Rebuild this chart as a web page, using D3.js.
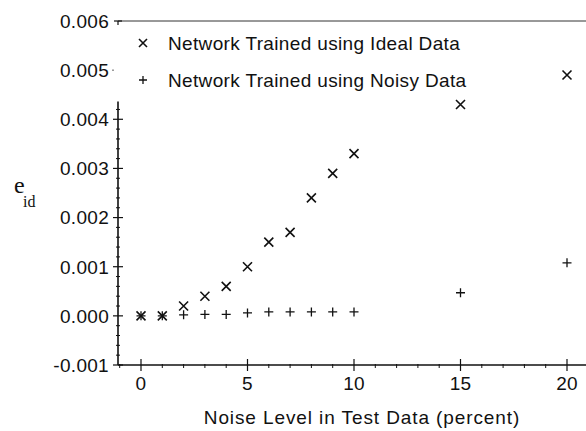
<!DOCTYPE html>
<html>
<head>
<meta charset="utf-8">
<script src="https://cdn.jsdelivr.net/npm/d3@7/dist/d3.min.js"></script>
<style>
  html, body { margin: 0; padding: 0; background: #fff; }
  svg { display: block; }
  text { font-family: "Liberation Sans", Arial, Helvetica, sans-serif; fill: #111; }
</style>
</head>
<body>
<svg id="chart" width="586" height="431"></svg>
<script>
// Noise level in test data (percent)
const noiseLevels = [0, 1, 2, 3, 4, 5, 6, 7, 8, 9, 10, 15, 20];
// e_id for the network trained on ideal data
const idealTrained = [0.0, 0.0, 0.0002, 0.0004, 0.0006, 0.0010, 0.0015, 0.0017, 0.0024, 0.0029, 0.0033, 0.0043, 0.0049];
// e_id for the network trained on noisy data
const noisyTrained = [0.0, 0.0, 0.00002, 0.00003, 0.00003, 0.00006, 0.00008, 0.00008, 0.00008, 0.00008, 0.00008, 0.00047, 0.00108];

const xTicks = [0, 5, 10, 15, 20];
const yTicks = [-0.001, 0.000, 0.001, 0.002, 0.003, 0.004, 0.005, 0.006];
const legendLabels = ["Network Trained using Ideal Data", "Network Trained using Noisy Data"];

const svg = d3.select("#chart");
const x = d3.scaleLinear().domain([0, 20]).range([141, 567]);
const y = d3.scaleLinear().domain([-0.001, 0.006]).range([365, 21]);
const axisX = 118;
const ink = "#111";

// Frame lines: bottom axis, top rule, left axis (below legend)
svg.append("line").attr("x1", axisX).attr("x2", 586).attr("y1", y(-0.001)).attr("y2", y(-0.001))
  .attr("stroke", ink).attr("stroke-width", 1.6);
svg.append("line").attr("x1", axisX).attr("x2", 586).attr("y1", y(0.006)).attr("y2", y(0.006))
  .attr("stroke", "#333").attr("stroke-width", 1);
svg.append("line").attr("x1", axisX).attr("x2", axisX).attr("y1", y(-0.001)).attr("y2", y(0.00436))
  .attr("stroke", ink).attr("stroke-width", 1.6);

// Y axis ticks and labels
const yFmt = d3.format(".3f");
const yMinor = d3.range(-0.001, 0.00431, 0.0002).filter(v => Math.abs(Math.round(v * 1000) - v * 1000) > 1e-6);
svg.append("g").selectAll("line").data(yMinor).join("line")
  .attr("x1", axisX - 2).attr("x2", axisX + 2).attr("y1", d => y(d)).attr("y2", d => y(d))
  .attr("stroke", ink).attr("stroke-width", 1);
svg.append("g").selectAll("line").data(yTicks.filter(v => v <= 0.0041)).join("line")
  .attr("x1", axisX - 5).attr("x2", axisX + 5).attr("y1", d => y(d)).attr("y2", d => y(d))
  .attr("stroke", ink).attr("stroke-width", 1.2);
svg.append("line").attr("x1", axisX - 6).attr("x2", axisX - 4).attr("y1", y(0.005)).attr("y2", y(0.005))
  .attr("stroke", "#666").attr("stroke-width", 1);
svg.append("line").attr("x1", axisX - 4).attr("x2", axisX + 4).attr("y1", y(0.006)).attr("y2", y(0.006))
  .attr("stroke", ink).attr("stroke-width", 1.2);
svg.append("line").attr("x1", axisX).attr("x2", axisX).attr("y1", y(0.006)).attr("y2", y(0.006) + 4)
  .attr("stroke", ink).attr("stroke-width", 1.2);
svg.append("g").selectAll("text").data(yTicks).join("text")
  .attr("x", 109).attr("y", d => y(d)).attr("dy", "0.36em")
  .attr("text-anchor", "end").attr("font-size", 19).attr("letter-spacing", 0.3)
  .text(d => d < 0 ? "-" + yFmt(-d) : yFmt(d));

// X axis ticks and labels
const xMinor = d3.range(-1, 21).filter(v => v % 5 !== 0);
svg.append("g").selectAll("line").data(xMinor).join("line")
  .attr("x1", d => x(d)).attr("x2", d => x(d)).attr("y1", y(-0.001) - 1).attr("y2", y(-0.001) + 3)
  .attr("stroke", ink).attr("stroke-width", 1);
svg.append("g").selectAll("line").data(xTicks).join("line")
  .attr("x1", d => x(d)).attr("x2", d => x(d)).attr("y1", y(-0.001) - 6).attr("y2", y(-0.001) + 6)
  .attr("stroke", ink).attr("stroke-width", 1.2);
svg.append("g").selectAll("text").data(xTicks).join("text")
  .attr("x", d => x(d)).attr("y", 390).attr("text-anchor", "middle").attr("font-size", 19)
  .attr("letter-spacing", 0.3)
  .text(d => d);

// Axis titles
svg.append("text").attr("x", 362).attr("y", 424).attr("text-anchor", "middle").attr("font-size", 19)
  .attr("letter-spacing", 0.9)
  .text("Noise Level in Test Data (percent)");
svg.append("text").attr("x", 14).attr("y", 193).attr("font-size", 24)
  .style("font-family", "'Liberation Serif', 'Times New Roman', serif").text("e");
svg.append("text").attr("x", 23).attr("y", 207).attr("font-size", 16)
  .style("font-family", "'Liberation Serif', 'Times New Roman', serif").text("id");

// Marker shapes
function cross(sel, s) {
  sel.append("path").attr("d", `M${-s},${-s}L${s},${s}M${-s},${s}L${s},${-s}`)
    .attr("stroke", ink).attr("stroke-width", 1.6).attr("fill", "none");
}
function plus(sel, s) {
  sel.append("path").attr("d", `M${-s},0L${s},0M0,${-s}L0,${s}`)
    .attr("stroke", ink).attr("stroke-width", 1.3).attr("fill", "none");
}

// Data points
svg.append("g").selectAll("g").data(noiseLevels.map((n, i) => [n, idealTrained[i]])).join("g")
  .attr("transform", d => `translate(${x(d[0])},${y(d[1])})`)
  .each(function () { cross(d3.select(this), 4.5); });
svg.append("g").selectAll("g").data(noiseLevels.map((n, i) => [n, noisyTrained[i]])).join("g")
  .attr("transform", d => `translate(${x(d[0])},${y(d[1])})`)
  .each(function () { plus(d3.select(this), 4.5); });

// Legend
const legend = svg.append("g").selectAll("g").data(legendLabels).join("g")
  .attr("transform", (d, i) => `translate(143,${43 + i * 37})`);
legend.each(function (d, i) {
  const g = d3.select(this);
  if (i === 0) cross(g, 4); else plus(g, 4);
  g.append("text").attr("x", 25).attr("dy", "0.36em").attr("font-size", 19)
    .attr("letter-spacing", 0.35).text(d);
});
</script>
</body>
</html>
